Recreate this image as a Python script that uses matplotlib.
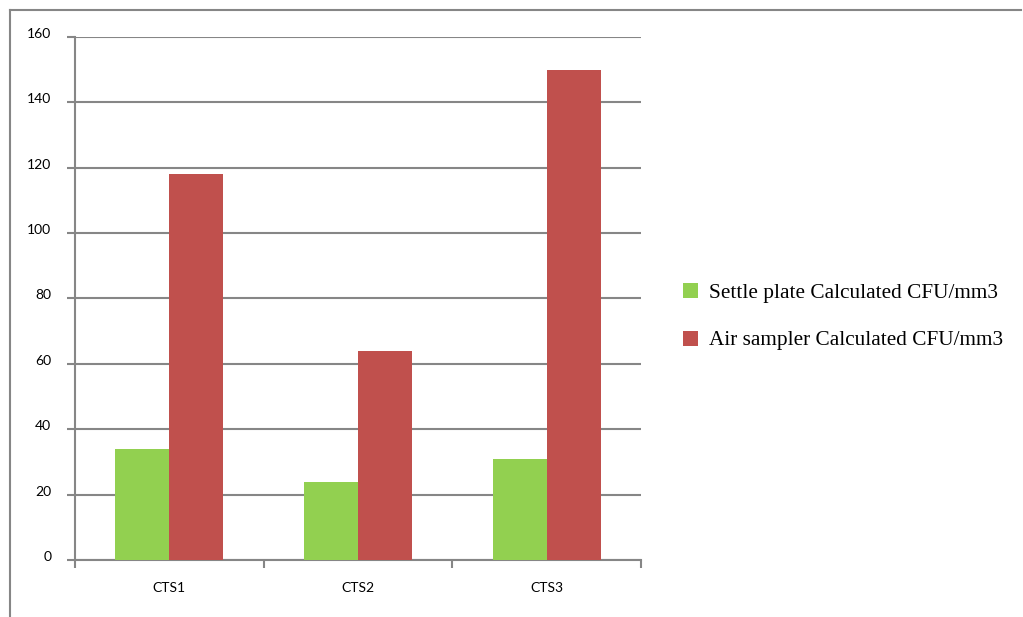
import matplotlib
matplotlib.use("Agg")
import matplotlib.pyplot as plt
import matplotlib.transforms as mtransforms
from matplotlib.patches import Patch
from matplotlib.lines import Line2D
import numpy as np

categories = ["CTS1", "CTS2", "CTS3"]
settle_plate = [34, 24, 31]
air_sampler = [118, 64, 150]
series_names = ["Settle plate Calculated CFU/mm3", "Air sampler Calculated CFU/mm3"]
y_ticks = [0, 20, 40, 60, 80, 100, 120, 140, 160]

green = "#92D050"
red = "#C0504D"
gray = "#868686"

W, H = 1023, 617
fig = plt.figure(figsize=(W / 100, H / 100), dpi=100)
ax = fig.add_axes([75 / W, (H - 560) / H, (641 - 75) / W, (560 - 37) / H])

x = np.arange(len(categories))
bw = 0.287
ax.bar(x - bw / 2, settle_plate, bw, color=green, zorder=3)
ax.bar(x + bw / 2, air_sampler, bw, color=red, zorder=3)

ax.set_xlim(-0.5, len(categories) - 0.5)
ax.set_ylim(0, 160)
ax.set_yticks(y_ticks)
ax.yaxis.grid(True, color=gray, linewidth=1.5, zorder=0)
ax.tick_params(axis="y", length=6, width=1.5, color=gray, pad=11,
               labelsize=10)
shift_up = mtransforms.ScaledTranslation(0, 4 / 100, fig.dpi_scale_trans)
for lab in ax.get_yticklabels():
    lab.set_fontfamily("Lato")
    lab.set_transform(lab.get_transform() + shift_up)

ax.set_xticks(x)
ax.set_xticklabels(categories, fontfamily="Lato", fontsize=10)
ax.tick_params(axis="x", which="major", length=0, pad=16)
ax.set_xticks(np.arange(-0.5, len(categories), 1.0), minor=True)
ax.tick_params(axis="x", which="minor", length=6, width=1.5, color=gray)

for s in ["top", "right"]:
    ax.spines[s].set_visible(False)
for s in ["left", "bottom"]:
    ax.spines[s].set_color(gray)
    ax.spines[s].set_linewidth(1.5)

handles = [Patch(facecolor=green), Patch(facecolor=red)]
fig.legend(handles, series_names, loc="upper left",
           bbox_to_anchor=(664 / W, 1 - 264 / H), frameon=False,
           prop={"family": "Liberation Serif", "size": 15.3},
           handlelength=0.7, handleheight=0.7, handletextpad=0.5,
           labelspacing=1.3)

# outer frame: top and left edges
fig.add_artist(Line2D([9.5 / W, 1021 / W], [1 - 9.5 / H, 1 - 9.5 / H],
                      color=gray, linewidth=1.5, transform=fig.transFigure))
fig.add_artist(Line2D([9.5 / W, 9.5 / W], [1 - 9.5 / H, 0],
                      color=gray, linewidth=1.5, transform=fig.transFigure))

fig.savefig("out.png", dpi=100)
